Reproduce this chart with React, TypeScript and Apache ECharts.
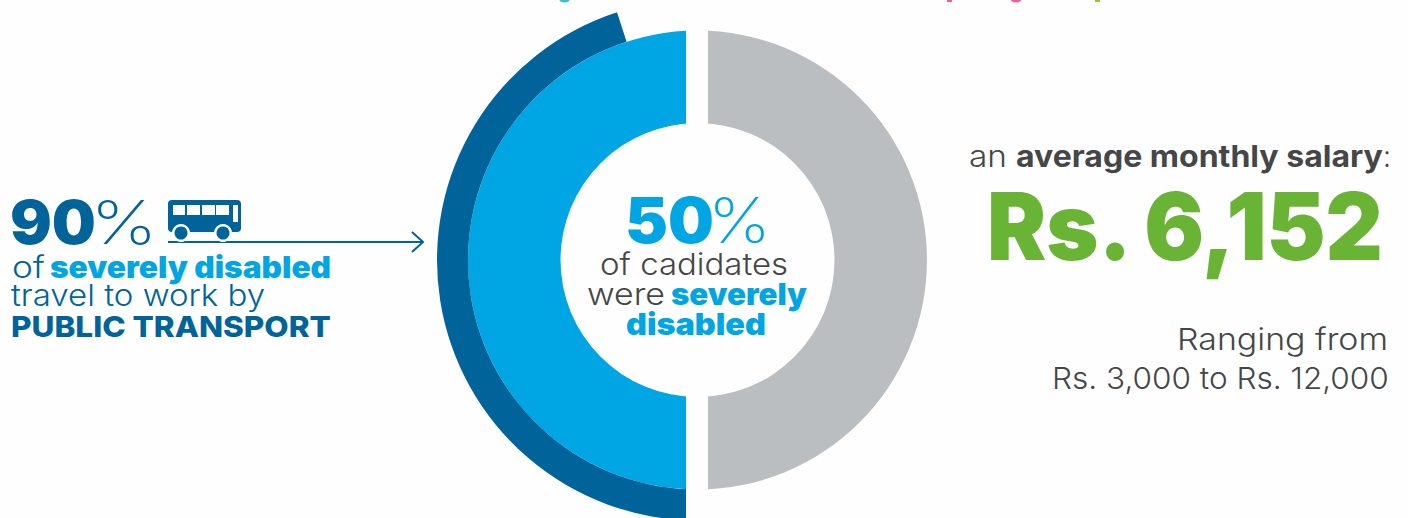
import React, { useEffect, useRef } from "react";
import * as echarts from "echarts";

const DARK = "#00649A";
const BLUE = "#00A5E3";
const GREY = "#BBBEC0";
const INK = "#454648";
const GREEN = "#69B335";
const BG = "#FEFEFE";
const FONT = "Inter";

const candidateNames = ["Not severely disabled", "Severely disabled"];
const candidateShares = [50, 50];
const transportNames = ["Public transport", "Other transport", "Not severely disabled"];
const transportShares = [90, 10, 100];

type T = [string, number, number, number, number, number, string];
// text, left, baseline, width, size, weight, colour
const texts: T[] = [
  ["90", 10, 244, 86, 60, 900, DARK],
  ["%", 90.5, 244, 67, 60, 200, DARK],
  ["of", 12, 278, 33, 30, 300, DARK],
  ["severely disabled", 50, 278, 281, 30, 900, BLUE],
  ["travel to work by", 11, 306, 254, 30, 300, DARK],
  ["PUBLIC TRANSPORT", 11, 337, 320, 29, 800, DARK],
  ["50", 625, 243, 89, 63, 900, BLUE],
  ["%", 708, 243, 63, 63, 200, BLUE],
  ["of cadidates", 600, 275, 188, 30, 300, INK],
  ["were", 587, 305, 78, 30, 300, INK],
  ["severely", 671, 305, 136, 30, 900, BLUE],
  ["disabled", 626, 335, 140, 30, 900, BLUE],
  ["an", 969, 167, 38, 30, 300, INK],
  ["average monthly salary", 1016, 167, 367, 30, 700, INK],
  [":", 1383, 167, 8, 30, 300, INK],
  ["Rs. 6,152", 987, 260, 401, 93, 900, GREEN],
  ["Ranging from", 1177, 350, 211, 30, 300, INK],
  ["Rs. 3,000 to Rs. 12,000", 1052, 389, 337, 30, 300, INK],
];

function buildTexts() {
  const ctx = document.createElement("canvas").getContext("2d")!;
  return texts.map(([text, x, base, width, size, weight, fill]) => {
    ctx.font = `${weight} ${size}px ${FONT}`;
    const w = ctx.measureText(text).width || width;
    return {
      type: "text",
      x,
      y: base - 0.363 * size,
      scaleX: width / w,
      z: 10,
      style: { text, fill, fontFamily: FONT, fontSize: size, fontWeight: weight, verticalAlign: "middle", align: "left" },
    };
  });
}

function bus() {
  const fill = { fill: DARK };
  const hole = { fill: BG };
  const win: any[] = [
    [173, 205, 12, 10], [187, 205, 13, 10], [202, 205, 13, 10], [216, 205, 13, 10], [233, 205, 5, 17],
  ];
  return [
    { type: "rect", shape: { x: 168, y: 200, width: 73, height: 32, r: 4 }, style: fill, z: 10 },
    ...win.map(([x, y, width, height]) => ({ type: "rect", shape: { x, y, width, height }, style: hole, z: 11 })),
    { type: "circle", shape: { cx: 181, cy: 233, r: 9 }, style: hole, z: 11 },
    { type: "circle", shape: { cx: 223, cy: 233, r: 9 }, style: hole, z: 11 },
    { type: "circle", shape: { cx: 181, cy: 233, r: 6.5 }, style: fill, z: 12 },
    { type: "circle", shape: { cx: 223, cy: 233, r: 6.5 }, style: fill, z: 12 },
  ];
}

// Remains of a heading cropped off by the top edge of the picture
function croppedHeading() {
  return [
    { type: "ellipse", shape: { cx: 564.5, cy: 0, rx: 5, ry: 2.5 }, style: { fill: "#3DBBCF" } },
    { type: "rect", shape: { x: 947, y: 0, width: 5, height: 2 }, style: { fill: "#EE5F9B" } },
    { type: "ellipse", shape: { cx: 1016, cy: 0, rx: 5, ry: 2.5 }, style: { fill: "#EE5F9B" } },
    { type: "rect", shape: { x: 1095, y: 0, width: 5, height: 2 }, style: { fill: "#8DC63F" } },
  ];
}

export default function App() {
  const ref = useRef<HTMLDivElement>(null);
  useEffect(() => {
    const chart = echarts.init(ref.current!, undefined, { renderer: "svg" });
    const pieBase = { type: "pie", center: [697.5, 260], silent: true, label: { show: false }, labelLine: { show: false }, emphasis: { disabled: true } };
    chart.setOption({
      animation: false,
      backgroundColor: BG,
      series: [
        {
          ...pieBase,
          radius: [137, 229.5],
          startAngle: 90,
          data: candidateNames.map((name, i) => ({ name, value: candidateShares[i], itemStyle: { color: i === 0 ? GREY : BLUE } })),
        },
        {
          ...pieBase,
          radius: [229.5, 260.5],
          startAngle: 270,
          data: transportNames.map((name, i) => ({ name, value: transportShares[i], itemStyle: { color: i === 0 ? DARK : "rgba(0,0,0,0)" } })),
        },
      ],
      graphic: [
        { type: "rect", shape: { x: 686, y: 0, width: 22, height: 518 }, style: { fill: BG }, z: 5 },
        { type: "line", shape: { x1: 168, y1: 242, x2: 423, y2: 242 }, style: { stroke: DARK, lineWidth: 2 }, z: 10 },
        { type: "polyline", shape: { points: [[412, 232], [423, 242], [412, 252]] }, style: { stroke: DARK, lineWidth: 2, fill: "none" }, z: 10 },
        ...croppedHeading(),
        ...bus(),
        ...buildTexts(),
      ],
    });
    return () => chart.dispose();
  }, []);
  return <div ref={ref} style={{ position: "fixed", left: 0, top: 0, width: 1408, height: 518 }} />;
}
